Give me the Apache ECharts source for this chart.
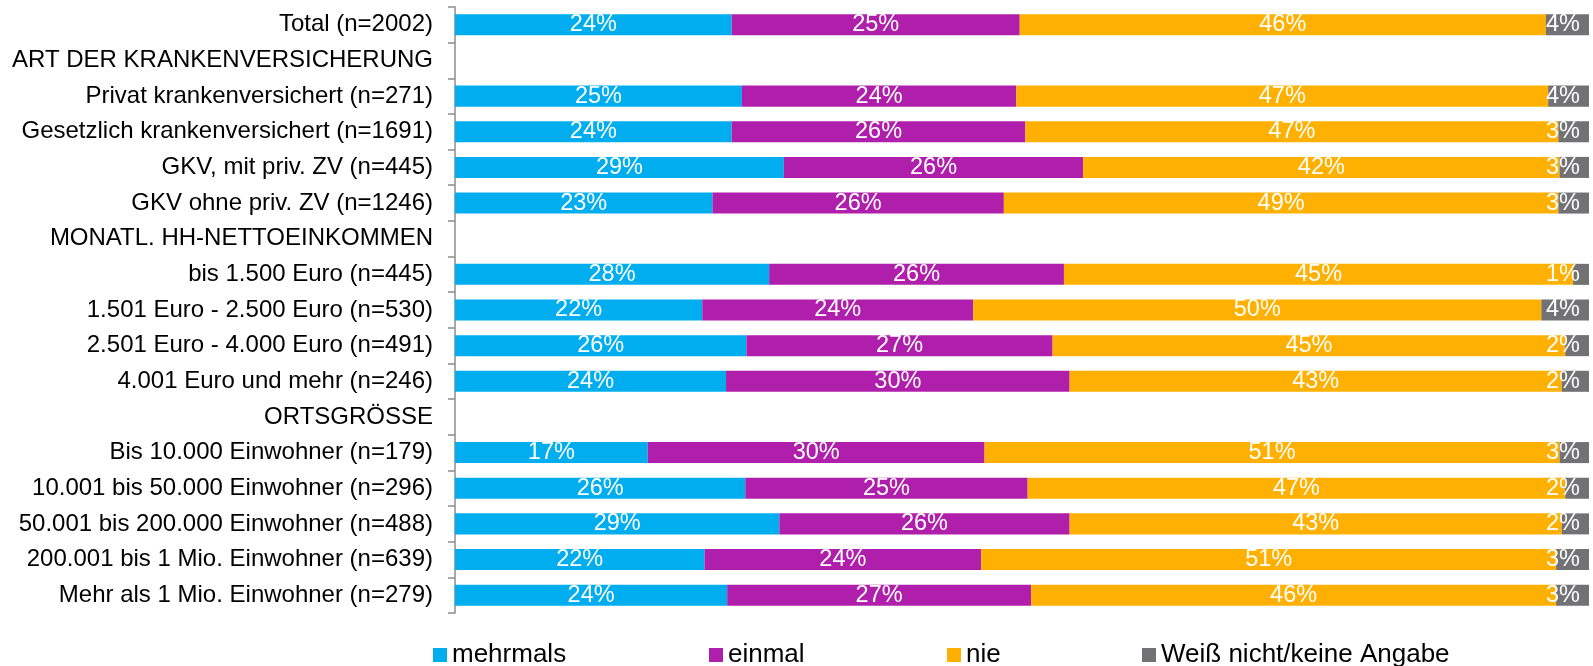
<!DOCTYPE html>
<html>
<head>
<meta charset="utf-8">
<script src="https://cdn.jsdelivr.net/npm/echarts@6/dist/echarts.min.js"></script>
<style>
html,body{margin:0;padding:0;background:#fff;}
#chart{width:1593px;height:666px;}
</style>
</head>
<body>
<div id="chart"></div>
<script>
const categories = [
  'Total (n=2002)',
  'ART DER KRANKENVERSICHERUNG',
  'Privat krankenversichert (n=271)',
  'Gesetzlich krankenversichert (n=1691)',
  'GKV, mit priv. ZV (n=445)',
  'GKV ohne priv. ZV (n=1246)',
  'MONATL. HH-NETTOEINKOMMEN',
  'bis 1.500 Euro (n=445)',
  '1.501 Euro - 2.500 Euro (n=530)',
  '2.501 Euro - 4.000 Euro (n=491)',
  '4.001 Euro und mehr (n=246)',
  'ORTSGRÖSSE',
  'Bis 10.000 Einwohner (n=179)',
  '10.001 bis 50.000 Einwohner (n=296)',
  '50.001 bis 200.000 Einwohner (n=488)',
  '200.001 bis 1 Mio. Einwohner (n=639)',
  'Mehr als 1 Mio. Einwohner (n=279)'
];
const seriesNames = ['mehrmals', 'einmal', 'nie', 'Weiß nicht/keine Angabe'];
const mehrmals = [24.4, null, 25.3, 24.4, 29.0, 22.7, null, 27.7, 21.8, 25.7, 23.9, null, 17.0, 25.6, 28.6, 22.0, 24.0];
const einmal   = [25.4, null, 24.2, 25.9, 26.4, 25.7, null, 26.0, 23.9, 27.0, 30.3, null, 29.7, 24.9, 25.6, 24.4, 26.8];
const nie      = [46.4, null, 46.9, 47.0, 42.0, 48.9, null, 44.9, 50.1, 45.2, 43.4, null, 50.7, 47.4, 43.4, 50.7, 46.3];
const weissNicht = [3.8, null, 3.6, 2.7, 2.6, 2.7, null, 1.4, 4.2, 2.1, 2.4, null, 2.6, 2.1, 2.4, 2.9, 2.9];

const colors = ['#00AEEF', '#B01FAB', '#FFB000', '#727275'];
const FONT = '"Liberation Sans", Arial, sans-serif';

const values = [mehrmals, einmal, nie, weissNicht];
const series = values.map(function (arr, i) {
  return {
    name: seriesNames[i],
    type: 'bar',
    stack: 'total',
    barWidth: '59%',
    itemStyle: { color: colors[i] },
    label: {
      show: true,
      position: i === 3 ? 'insideRight' : 'inside',
      distance: 9,
      color: '#fff',
      fontFamily: FONT,
      fontSize: 23.5,
      formatter: function (p) { return Math.round(p.value) + '%'; }
    },
    data: arr.map(function (v) { return v === null ? '-' : v; })
  };
});

const legendLefts = [433, 709, 947, 1142];
const legends = seriesNames.map(function (n, i) {
  return {
    data: [n],
    left: legendLefts[i],
    top: 642,
    padding: 0,
    itemWidth: 14,
    itemHeight: 14,
    icon: 'rect',
    textStyle: { fontFamily: FONT, fontSize: 26, color: '#000' }
  };
});

const chart = echarts.init(document.getElementById('chart'));
chart.setOption({
  animation: false,
  backgroundColor: '#fff',
  color: colors,
  legend: legends,
  grid: { left: 455, right: 4, top: 7, bottom: 53, containLabel: false },
  xAxis: {
    type: 'value', min: 0, max: 100, show: false
  },
  yAxis: {
    type: 'category',
    inverse: true,
    data: categories,
    axisLine: { show: true, lineStyle: { color: '#8c8c8c', width: 1.5 } },
    axisTick: { show: true, length: 7, lineStyle: { color: '#8c8c8c', width: 1.5 } },
    axisLabel: { margin: 22, color: '#000', fontFamily: FONT, fontSize: 24 },
    splitLine: { show: false }
  },
  series: series
});
</script>
</body>
</html>
